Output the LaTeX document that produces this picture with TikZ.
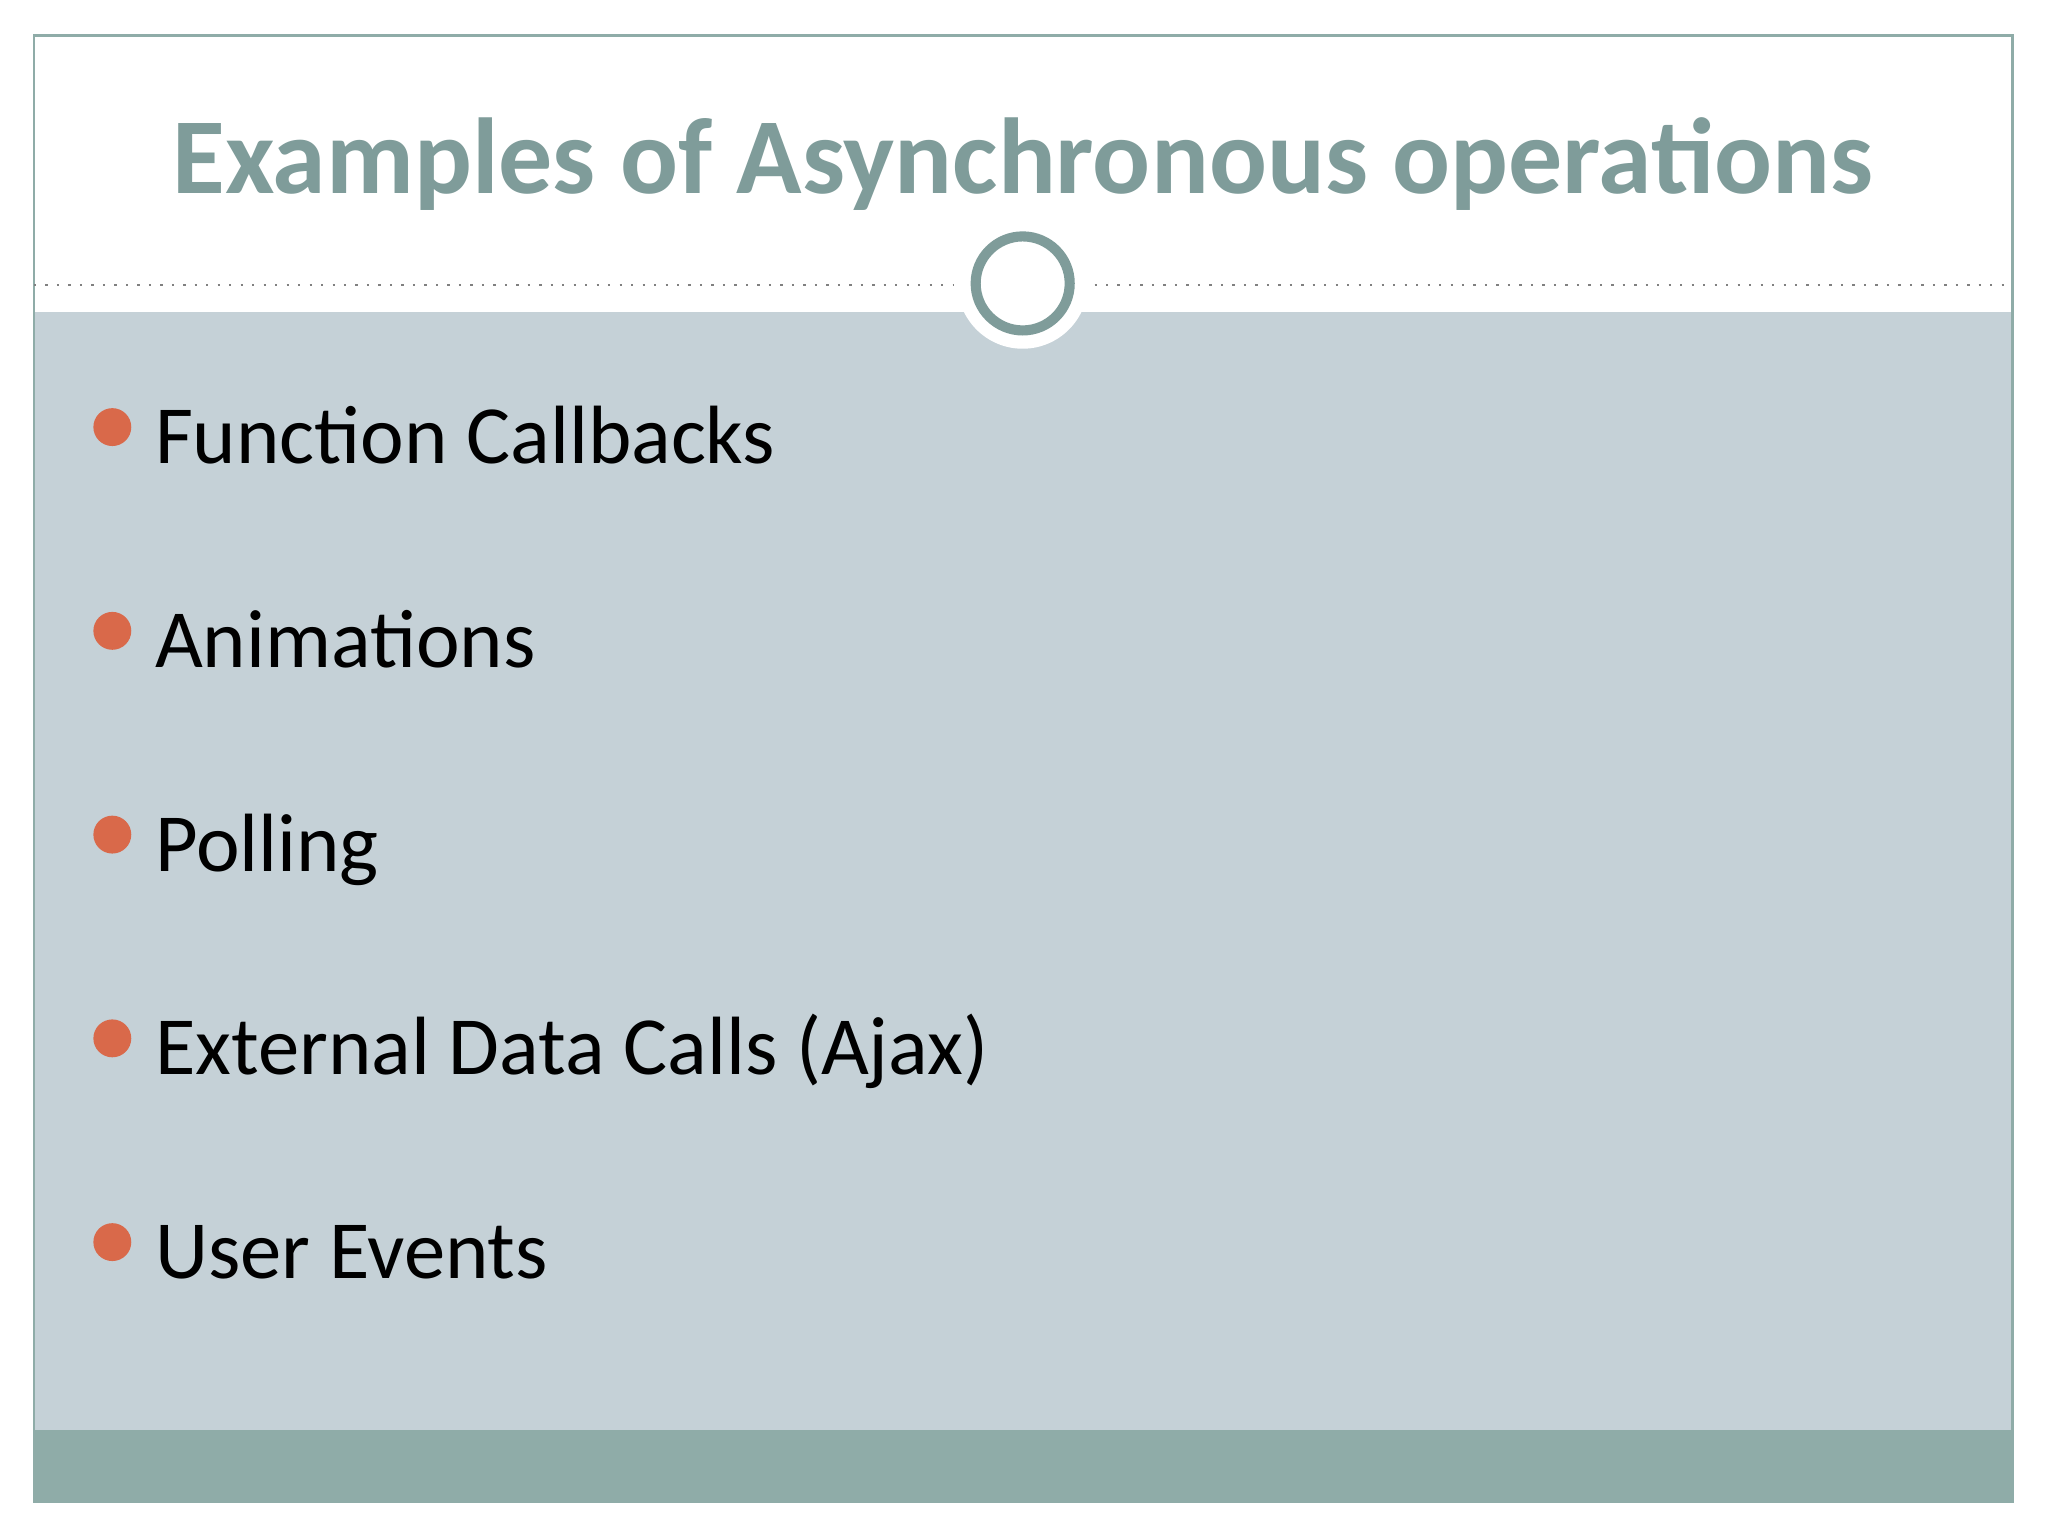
\documentclass[tikz,border=0pt]{standalone}
\usepackage{fontspec}
\setmainfont{Carlito}
\definecolor{teal1}{HTML}{7F9C9A}
\definecolor{panel}{HTML}{C5D1D7}
\definecolor{band}{HTML}{8FACA8}
\definecolor{dot}{HTML}{D9694A}
\begin{document}
\begin{tikzpicture}[x=0.01cm,y=-0.01cm,
  bul/.style={circle,fill=dot,minimum size=0.29cm,inner sep=0},
  item/.style={anchor=base west,font=\fontsize{18}{20}\selectfont,inner sep=0}]
\useasboundingbox (0,0) rectangle (1568,1176);
\fill[white] (0,0) rectangle (1568,1176);
\fill[panel] (26,239) rectangle (1541,1095);
\fill[band] (26,1095) rectangle (1541,1150);
\draw[band,line width=0.6pt] (26,27) rectangle (1541,1150);
\draw[gray,dotted,line width=0.5pt] (26,218) -- (730,218);
\draw[gray,dotted,line width=0.5pt] (838,218) -- (1541,218);
\fill[white] (783,217) circle (50);
\draw[teal1,fill=white,line width=2.2pt] (783,217) circle (36);
\node[anchor=base,text=teal1,font=\bfseries\fontsize{23.5}{26}\selectfont,inner sep=0] (title) at (783,148) {Examples of Asynchronous operations};
\foreach \t [count=\i] in {Function Callbacks,Animations,Polling,External Data Calls (Ajax),User Events}{
  \node[bul] (b\i) at (86,171+156*\i) {};
  \node[item] (t\i) at (118,199+156*\i) {\t};
}
\end{tikzpicture}
\end{document}
